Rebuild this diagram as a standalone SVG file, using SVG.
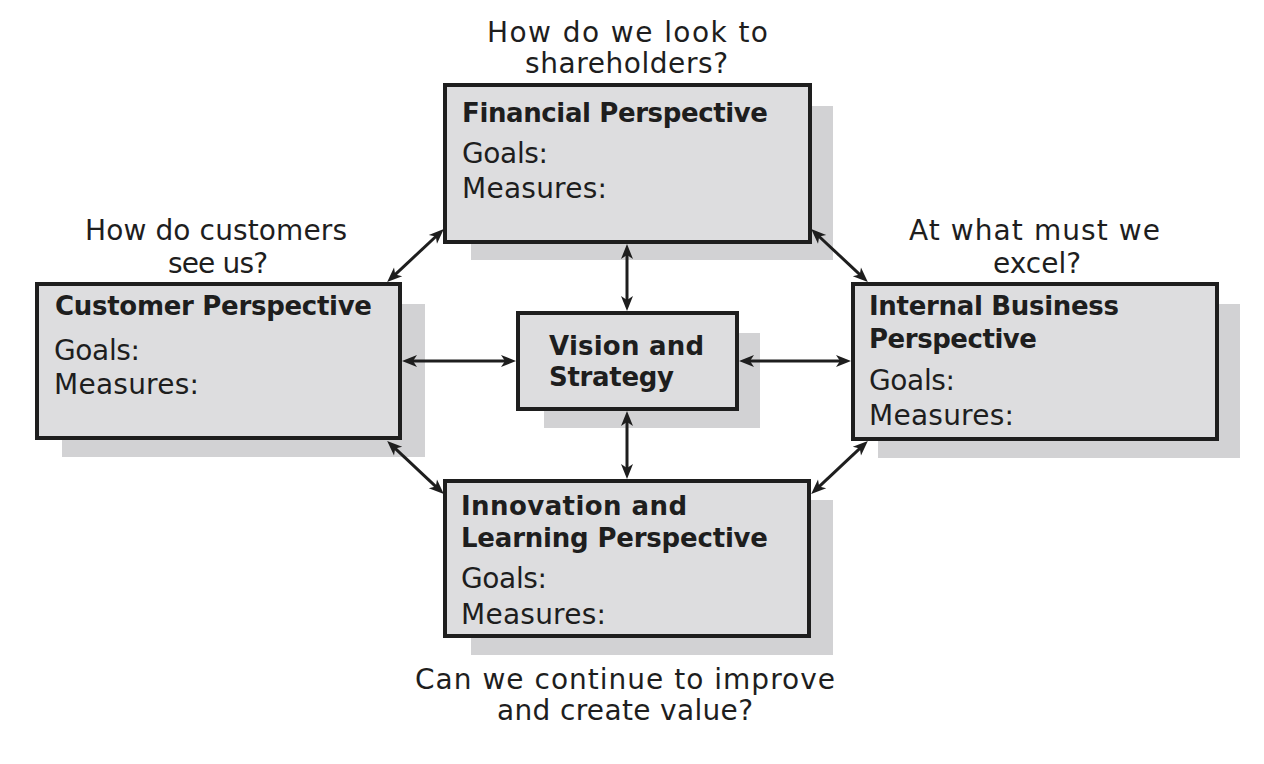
<svg xmlns="http://www.w3.org/2000/svg" width="1264" height="764" viewBox="0 0 1264 764">
<defs>
<style>
.box{fill:#dddddf;stroke:#1e1e1e;stroke-width:4}
.shadow{fill:#d2d2d4}
.t{font-family:"DejaVu Sans","Open Sans",sans-serif;font-size:28px;fill:#1e1e1e}
.b{font-weight:bold;font-size:26px}
.conn line{stroke:#1e1e1e;stroke-width:3;marker-start:url(#ah);marker-end:url(#ah)}
</style>
<marker id="ah" viewBox="-16 -8 17 16" refX="-8" refY="0" markerWidth="17" markerHeight="16" markerUnits="userSpaceOnUse" orient="auto-start-reverse">
<path d="M0,0 L-15,-6 L-11,0 L-15,6 Z" fill="#1e1e1e"/>
</marker>
</defs>
<rect width="1264" height="764" fill="#ffffff"/>

<g id="labels">
<text class="t" x="487" y="42" textLength="281" lengthAdjust="spacing">How do we look to</text>
<text class="t" x="525" y="73" textLength="203" lengthAdjust="spacing">shareholders?</text>
<text class="t" x="85" y="240" textLength="262" lengthAdjust="spacing">How do customers</text>
<text class="t" x="168" y="273" textLength="100" lengthAdjust="spacing">see us?</text>
<text class="t" x="909" y="240" textLength="251" lengthAdjust="spacing">At what must we</text>
<text class="t" x="1037" y="273" text-anchor="middle">excel?</text>
<text class="t" x="415" y="689" textLength="420" lengthAdjust="spacing">Can we continue to improve</text>
<text class="t" x="497" y="720" textLength="256" lengthAdjust="spacing">and create value?</text>
</g>

<g id="financial">
<rect class="shadow" x="471" y="106" width="362" height="154"/>
<rect class="box" x="445" y="85" width="365" height="157"/>
<text class="t b" x="462" y="122" textLength="306" lengthAdjust="spacing">Financial Perspective</text>
<text class="t" x="462" y="163" textLength="86" lengthAdjust="spacing">Goals:</text>
<text class="t" x="462" y="198" textLength="145" lengthAdjust="spacing">Measures:</text>
</g>

<g id="customer">
<rect class="shadow" x="62" y="304" width="363" height="153"/>
<rect class="box" x="37" y="284" width="363" height="154"/>
<text class="t b" x="55" y="315" textLength="317" lengthAdjust="spacing">Customer Perspective</text>
<text class="t" x="54" y="360" textLength="86" lengthAdjust="spacing">Goals:</text>
<text class="t" x="54" y="394" textLength="145" lengthAdjust="spacing">Measures:</text>
</g>

<g id="vision">
<rect class="shadow" x="544" y="333" width="216" height="95"/>
<rect class="box" x="518" y="313" width="219" height="96"/>
<text class="t b" x="549" y="355" textLength="155" lengthAdjust="spacing">Vision and</text>
<text class="t b" x="549" y="386" textLength="125" lengthAdjust="spacing">Strategy</text>
</g>

<g id="internal">
<rect class="shadow" x="878" y="304" width="362" height="154"/>
<rect class="box" x="853" y="284" width="364" height="155"/>
<text class="t b" x="869" y="315" textLength="250" lengthAdjust="spacing">Internal Business</text>
<text class="t b" x="869" y="348" textLength="168" lengthAdjust="spacing">Perspective</text>
<text class="t" x="869" y="390" textLength="86" lengthAdjust="spacing">Goals:</text>
<text class="t" x="869" y="425" textLength="145" lengthAdjust="spacing">Measures:</text>
</g>

<g id="innovation">
<rect class="shadow" x="471" y="500" width="362" height="155"/>
<rect class="box" x="445" y="481" width="364" height="155"/>
<text class="t b" x="461" y="515" textLength="226" lengthAdjust="spacing">Innovation and</text>
<text class="t b" x="461" y="547" textLength="307" lengthAdjust="spacing">Learning Perspective</text>
<text class="t" x="461" y="588" textLength="86" lengthAdjust="spacing">Goals:</text>
<text class="t" x="461" y="624" textLength="145" lengthAdjust="spacing">Measures:</text>
</g>

<g id="connectors" class="conn">
<line x1="627" y1="252" x2="627" y2="303"/>
<line x1="627" y1="419" x2="627" y2="471"/>
<line x1="410" y1="361" x2="508" y2="361"/>
<line x1="747" y1="361" x2="843" y2="361"/>
<line x1="393" y1="276.6" x2="438" y2="234.5"/>
<line x1="817" y1="234.5" x2="862" y2="276.6"/>
<line x1="393" y1="446.4" x2="438" y2="488.6"/>
<line x1="817" y1="488.6" x2="862" y2="446.4"/>
</g>
</svg>
